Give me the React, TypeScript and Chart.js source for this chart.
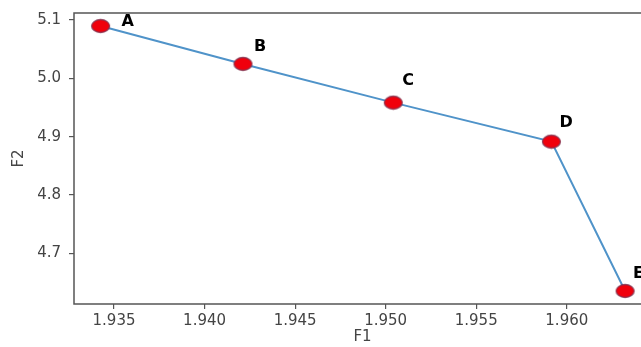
import React, { useEffect, useRef } from "react";
import { Chart, registerables } from "chart.js";

Chart.register(...registerables);

const pointNames = ["A", "B", "C", "D", "E"];
const f1Values = [1.93426, 1.94212, 1.95042, 1.95915, 1.96322];
const f2Values = [5.0897, 5.0247, 4.9583, 4.8914, 4.6353];
const xTickStep = 0.005;
const yTickStep = 0.1;

// label offsets in pixels (style only)
const labelDx = [21, 11, 9, 8, 8];
const labelDy = [-4, -17, -22, -19, -17];

function makeMarker(): HTMLCanvasElement {
  const c = document.createElement("canvas");
  c.width = 21;
  c.height = 16;
  const ctx = c.getContext("2d")!;
  ctx.beginPath();
  ctx.ellipse(10.5, 8, 9, 6.5, 0, 0, Math.PI * 2);
  ctx.fillStyle = "#f0000c";
  ctx.fill();
  ctx.lineWidth = 1.3;
  ctx.strokeStyle = "rgba(130,50,80,0.85)";
  ctx.stroke();
  return c;
}

export default function App() {
  const ref = useRef<HTMLCanvasElement | null>(null);

  useEffect(() => {
    if (!ref.current) return;
    const marker = makeMarker();
    const frame = {
      id: "frame",
      afterDraw(chart: any) {
        const { ctx, chartArea } = chart;
        ctx.save();
        ctx.strokeStyle = "#555";
        ctx.lineWidth = 1.5;
        ctx.strokeRect(chartArea.left, chartArea.top, chartArea.right - chartArea.left, chartArea.bottom - chartArea.top);
        ctx.restore();
      },
    };
    const labels = {
      id: "pointLabels",
      afterDatasetsDraw(chart: any) {
        const { ctx } = chart;
        const meta = chart.getDatasetMeta(0);
        ctx.save();
        ctx.font = "bold 16px 'DejaVu Sans'";
        ctx.fillStyle = "#000";
        ctx.textAlign = "left";
        ctx.textBaseline = "middle";
        meta.data.forEach((el: any, i: number) => {
          ctx.fillText(pointNames[i], el.x + labelDx[i], el.y + labelDy[i]);
        });
        ctx.restore();
      },
    };
    const chart = new Chart(ref.current, {
      type: "line",
      data: {
        datasets: [
          {
            data: f1Values.map((x, i) => ({ x, y: f2Values[i] })),
            borderColor: "#4f93c9",
            borderWidth: 2,
            pointStyle: marker as any,
            pointRadius: 8,
            pointHoverRadius: 8,
            fill: false,
            tension: 0,
            clip: false as any,
          },
        ],
      },
      options: {
        animation: false,
        responsive: false,
        devicePixelRatio: 1,
        layout: { autoPadding: false, padding: { top: 13, left: 0, right: 0, bottom: 0 } },
        plugins: { legend: { display: false }, tooltip: { enabled: false } },
        scales: {
          x: {
            type: "linear",
            min: 1.93279,
            max: 1.96465,
            afterFit(scale: any) {
              scale.height = 43;
              scale.paddingRight = 0;
              scale.paddingLeft = 0;
            },
            ticks: {
              stepSize: xTickStep,
              includeBounds: false,
              padding: 3,
              color: "#444",
              font: { family: "'DejaVu Sans'", size: 15 },
              maxRotation: 0,
              callback: (v: any) => Number(v).toFixed(3),
            },
            grid: { drawOnChartArea: false, drawTicks: true, tickLength: 5, color: "#555", lineWidth: 1.2 },
            border: { display: false },
            title: {
              display: true,
              text: "F1",
              color: "#444",
              font: { family: "'DejaVu Sans'", size: 15 },
              padding: { top: 0, bottom: 1 },
            },
          },
          y: {
            type: "linear",
            min: 4.613,
            max: 5.112,
            afterFit(scale: any) {
              scale.width = 74;
              scale.paddingTop = 0;
              scale.paddingBottom = 0;
            },
            ticks: {
              stepSize: yTickStep,
              includeBounds: false,
              padding: 8,
              color: "#444",
              font: { family: "'DejaVu Sans'", size: 15 },
              callback: (v: any) => Number(v).toFixed(1),
            },
            grid: { drawOnChartArea: false, drawTicks: true, tickLength: 5, color: "#555", lineWidth: 1.2 },
            border: { display: false },
            title: {
              display: true,
              text: "F2",
              color: "#444",
              font: { family: "'DejaVu Sans'", size: 15 },
              padding: { top: 10, bottom: 0 },
            },
          },
        },
      },
      plugins: [frame, labels],
    });
    return () => chart.destroy();
  }, []);

  return (
    <div style={{ position: "fixed", left: 0, top: 0, width: 641, height: 347, overflow: "hidden", background: "#fff" }}>
      <div style={{ width: 651, height: 347 }}>
        <canvas ref={ref} width={651} height={347} style={{ display: "block", width: 651, height: 347 }} />
      </div>
    </div>
  );
}
